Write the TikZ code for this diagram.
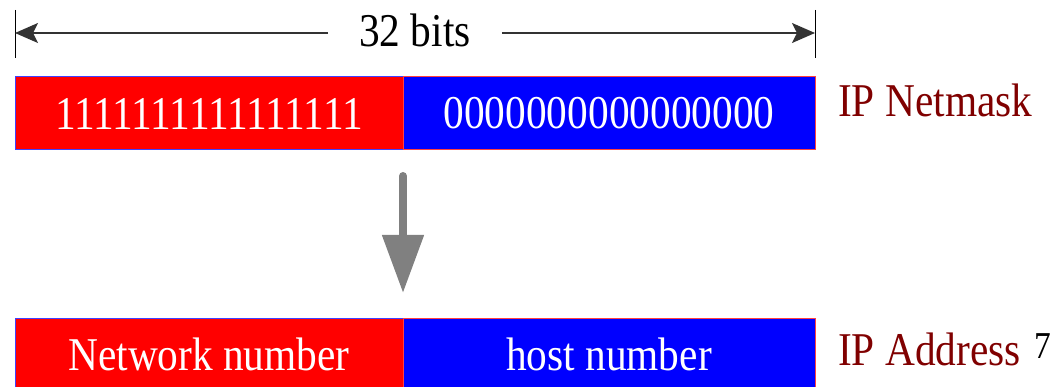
\documentclass[tikz,border=0pt]{standalone}
\usepackage{fontspec}
\setmainfont{Liberation Serif}[FakeStretch=0.88]
\usetikzlibrary{arrows.meta}
\definecolor{lblred}{RGB}{128,0,0}
\definecolor{segblueline}{RGB}{64,64,255}
\definecolor{segredline}{RGB}{255,64,64}
\definecolor{arrowgray}{RGB}{128,128,128}
\begin{document}
\begin{tikzpicture}[x=1pt,y=-1pt,
  bigfont/.style={font=\fontsize{47}{47}\selectfont},
  seg/.style={bigfont, minimum height=73pt, inner sep=0pt, outer sep=0pt,
    text=white, line width=1pt, anchor=north west},
  redseg/.style={seg, fill=red, draw=segblueline},
  blueseg/.style={seg, fill=blue, draw=segredline},
  lbl/.style={bigfont, text=lblred, anchor=base west, inner sep=0pt},
  tick/.style={draw=black, line width=1pt},
  dim/.style={draw=black!80, line width=1.4pt, -{Stealth[length=23pt,width=20pt,inset=5pt]}},
  garrow/.style={draw=arrowgray, line width=8pt, line cap=round,
    -{Triangle[length=58pt 0,width=40pt 0]}}]
\useasboundingbox (0,0) rectangle (1059,387);
% dimension
\coordinate (t1a) at (15,10);
\coordinate (t1b) at (15,58);
\coordinate (t2a) at (815,10);
\coordinate (t2b) at (815,58);
\coordinate (dl) at (15,33);
\coordinate (dr) at (815,33);
\draw[tick] (t1a) -- (t1b);
\draw[tick] (t2a) -- (t2b);
\node[bigfont, inner xsep=31pt, inner ysep=0pt] (bits) at (415,30) {32 bits};
\draw[dim] (bits.west |- dl) -- (dl);
\draw[dim] (bits.east |- dr) -- (dr);
% netmask
\node[redseg, minimum width=388pt] (nm1) at (15,77) {1111111111111111};
\node[blueseg, minimum width=412pt] (nm0) at (403,77) {0000000000000000};
\node[lbl] (lnm) at (838,117) {IP Netmask};
% address
\node[redseg, minimum width=388pt] (na) at (15,318) {Network number};
\node[blueseg, minimum width=412pt] (nh) at (403,318) {host number};
\node[lbl] (lad) at (838,365) {IP Address};
\node[font=\fontsize{38}{38}\selectfont, anchor=base west, inner sep=0pt] (pg) at (1034,358) {7};
% gray arrow
\draw[garrow] ([yshift=-26pt]nm1.south east) -- ([yshift=25pt]na.north east);
\end{tikzpicture}
\end{document}
